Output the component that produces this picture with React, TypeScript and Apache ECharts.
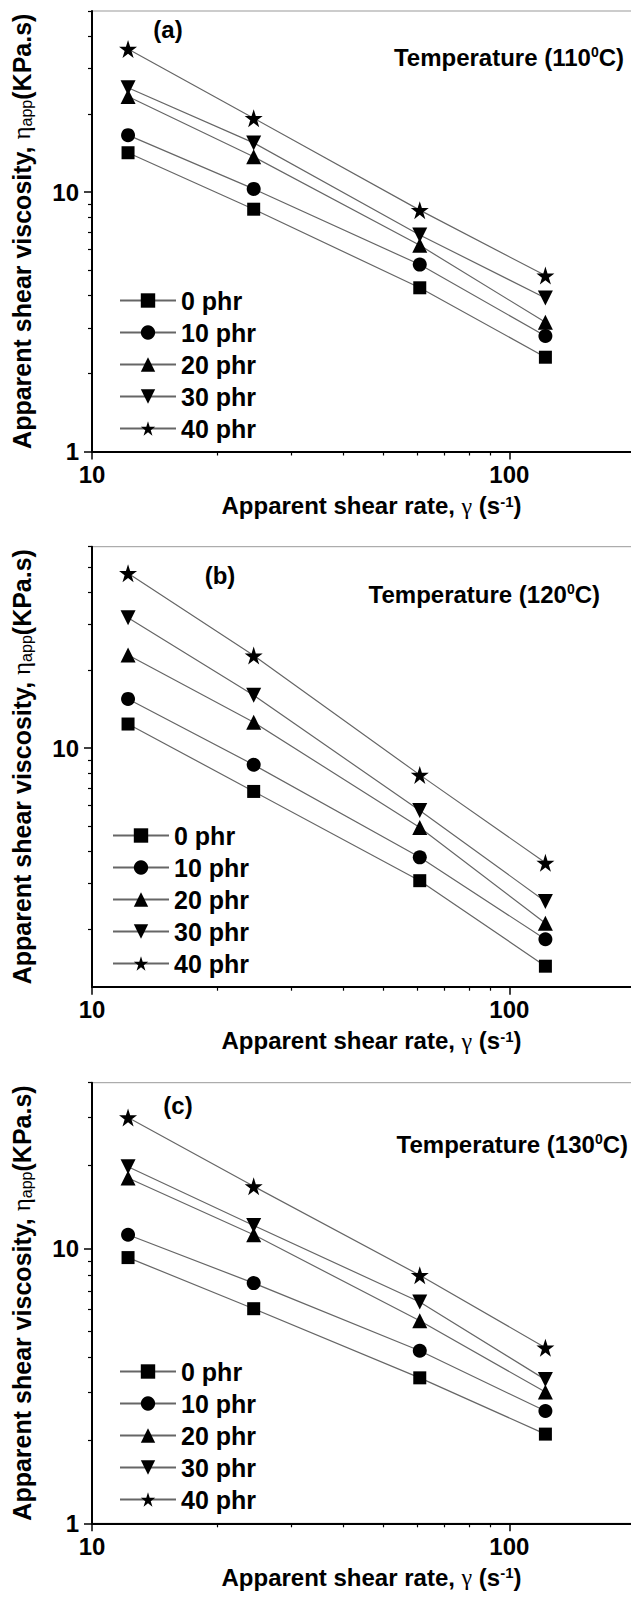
import React, { useEffect, useRef } from "react";
import * as echarts from "echarts";

// ---- data ----
const shearRate = [12.2, 24.4, 61, 122];
const seriesNames = ["0 phr", "10 phr", "20 phr", "30 phr", "40 phr"];

const visc110 = {
  p0: [14.2, 8.6, 4.28, 2.31],
  p10: [16.6, 10.3, 5.26, 2.79],
  p20: [23.4, 13.7, 6.24, 3.15],
  p30: [25.3, 15.5, 6.84, 3.91],
  p40: [35.7, 19.3, 8.53, 4.77],
};
const visc120 = {
  p0: [12.4, 6.81, 3.08, 1.44],
  p10: [15.5, 8.63, 3.79, 1.83],
  p20: [22.9, 12.6, 4.94, 2.11],
  p30: [31.9, 16.0, 5.75, 2.56],
  p40: [47.4, 22.8, 7.89, 3.61],
};
const visc130 = {
  p0: [9.25, 6.03, 3.38, 2.11],
  p10: [11.2, 7.47, 4.24, 2.56],
  p20: [18.0, 11.2, 5.45, 3.0],
  p30: [19.8, 12.1, 6.38, 3.33],
  p40: [29.9, 16.8, 7.98, 4.35],
};

const xRange = [10, 200];
const yRanges = [
  [1, 50],
  [1.2, 60],
  [1, 40],
];
const xMajor = [10, 100];
const xMinor = [20, 30, 40, 50, 60, 70, 80, 90, 200];
const yMajor = [
  [1, 10],
  [10],
  [1, 10],
];
const yMinor = [
  [2, 3, 4, 5, 6, 7, 8, 9, 20, 30, 40, 50],
  [2, 3, 4, 5, 6, 7, 8, 9, 20, 30, 40, 50, 60],
  [2, 3, 4, 5, 6, 7, 8, 9, 20, 30, 40],
];
const panelLabels = ["(a)", "(b)", "(c)"];
const temperatures = ["110", "120", "130"];

// ---- styles ----
const FONT = "Arial, 'Liberation Sans', Helvetica, sans-serif";
const SERIF = "'Liberation Serif', 'DejaVu Serif', serif";
const STAR =
  "path://M50,0 L61.2,34.5 L97.6,34.5 L68.2,55.9 L79.4,90.5 L50,69.1 L20.6,90.5 L31.8,55.9 L2.4,34.5 L38.8,34.5 Z";
const DOWN_TRI = "path://M0,0 L20,0 L10,18 Z";
const symbols = ["rect", "circle", "triangle", DOWN_TRI, STAR];
const symbolSizes = [13, 14, 15, 15, 18];

const grids = [
  { left: 92, top: 11, width: 543, height: 440.5 },
  { left: 92, top: 546.7, width: 543, height: 440 },
  { left: 92, top: 1082.7, width: 543, height: 440.6 },
];
const legendPos = [
  { left: 114, top: 283 },
  { left: 107, top: 818 },
  { left: 114, top: 1354 },
];
const panelLabelPos = [
  { x: 168, y: 29 },
  { x: 220, y: 575 },
  { x: 178, y: 1105 },
];
const tempPos = [
  { x: 624, y: 57 },
  { x: 600, y: 594 },
  { x: 628, y: 1144 },
];

export default function App() {
  const ref = useRef<HTMLDivElement>(null);

  useEffect(() => {
    if (!ref.current) return;
    const chart = echarts.init(ref.current, null, { renderer: "svg" });
    const datasets = [visc110, visc120, visc130];
    const keys = ["p0", "p10", "p20", "p30", "p40"];

    const xAxes: any[] = [];
    const yAxes: any[] = [];
    const series: any[] = [];
    const legends: any[] = [];
    const graphics: any[] = [];

    for (let p = 0; p < 3; p++) {
      xAxes.push({
        type: "log",
        logBase: 10,
        gridIndex: p,
        position: "bottom",
        min: xRange[0],
        max: xRange[1],
        axisLine: { show: true, lineStyle: { color: "#000", width: 2 } },
        axisTick: {
          show: true,
          inside: false,
          length: 8,
          customValues: xMajor,
          lineStyle: { color: "#000", width: 1.5 },
        },
        axisLabel: {
          show: true,
          customValues: xMajor,
          margin: 11,
          color: "#000",
          fontSize: 24,
          fontWeight: "bold",
          fontFamily: FONT,
        },
        splitLine: { show: false },
        name: "Apparent shear rate, {g|γ} (s{sup|-1})",
        nameLocation: "middle",
        nameGap: 42,
        nameTextStyle: {
          color: "#000",
          fontSize: 24,
          fontWeight: "bold",
          fontFamily: FONT,
          padding: [0, 0, 0, 16],
          rich: {
            g: { fontFamily: SERIF, fontSize: 24, fontWeight: "normal", color: "#000" },
            sup: {
              fontSize: 15,
              fontWeight: "bold",
              fontFamily: FONT,
              verticalAlign: "top",
              color: "#000",
            },
          },
        },
      });
      xAxes.push({
        type: "log",
        logBase: 10,
        gridIndex: p,
        position: "bottom",
        min: xRange[0],
        max: xRange[1],
        axisLine: { show: false },
        axisTick: {
          show: true,
          inside: false,
          length: 4,
          customValues: xMinor,
          lineStyle: { color: "#000", width: 1.2 },
        },
        axisLabel: { show: false },
        splitLine: { show: false },
      });
      yAxes.push({
        type: "log",
        logBase: 10,
        gridIndex: p,
        position: "left",
        min: yRanges[p][0],
        max: yRanges[p][1],
        axisLine: { show: true, lineStyle: { color: "#000", width: 2 } },
        axisTick: {
          show: true,
          inside: false,
          length: 8,
          customValues: yMajor[p],
          lineStyle: { color: "#000", width: 1.5 },
        },
        axisLabel: {
          show: true,
          customValues: yMajor[p],
          margin: 13,
          color: "#000",
          fontSize: 24,
          fontWeight: "bold",
          fontFamily: FONT,
        },
        splitLine: { show: false },
        name: "Apparent shear viscosity, {g|η}{sub|app}(KPa.s)",
        nameLocation: "middle",
        nameRotate: 90,
        nameGap: 58,
        nameTextStyle: {
          color: "#000",
          fontSize: 25,
          fontWeight: "bold",
          fontFamily: FONT,
          rich: {
            g: { fontFamily: SERIF, fontSize: 25, fontWeight: "normal", color: "#000" },
            sub: {
              fontSize: 16,
              fontWeight: "normal",
              fontFamily: FONT,
              verticalAlign: "bottom",
              color: "#000",
            },
          },
        },
      });
      yAxes.push({
        type: "log",
        logBase: 10,
        gridIndex: p,
        position: "left",
        min: yRanges[p][0],
        max: yRanges[p][1],
        axisLine: { show: false },
        axisTick: {
          show: true,
          inside: false,
          length: 4,
          customValues: yMinor[p],
          lineStyle: { color: "#000", width: 1.2 },
        },
        axisLabel: { show: false },
        splitLine: { show: false },
      });

      const ds: any = datasets[p];
      keys.forEach((k, g) => {
        series.push({
          type: "line",
          name: seriesNames[g],
          xAxisIndex: p * 2,
          yAxisIndex: p * 2,
          data: shearRate.map((x, i) => [x, ds[k][i]]),
          symbol: symbols[g],
          symbolSize: symbolSizes[g],
          showSymbol: true,
          itemStyle: { color: "#000" },
          lineStyle: { color: "#666", width: 1.2 },
          emphasis: { disabled: true },
          z: 3,
        });
      });

      legends.push({
        show: true,
        orient: "vertical",
        left: legendPos[p].left,
        top: legendPos[p].top,
        data: seriesNames,
        itemWidth: 56,
        itemHeight: 18,
        itemGap: 7,
        selectedMode: false,
        textStyle: {
          color: "#000",
          fontSize: 25,
          fontWeight: "bold",
          fontFamily: FONT,
        },
      });

      graphics.push({
        type: "text",
        x: panelLabelPos[p].x,
        y: panelLabelPos[p].y,
        style: {
          text: panelLabels[p],
          fill: "#000",
          font: `bold 24px ${FONT}`,
          textAlign: "center",
          textVerticalAlign: "middle",
        },
      });
      graphics.push({
        type: "text",
        x: tempPos[p].x,
        y: tempPos[p].y,
        style: {
          text: `Temperature (${temperatures[p]}{sup|0}C)`,
          fill: "#000",
          font: `bold 24px ${FONT}`,
          textAlign: "right",
          textVerticalAlign: "middle",
          rich: {
            sup: {
              fontSize: 14,
              fontWeight: "bold",
              fontFamily: FONT,
              verticalAlign: "top",
              fill: "#000",
            },
          },
        },
      });
    }

    chart.setOption({
      animation: false,
      backgroundColor: "#fff",
      grid: grids.map((g) => ({
        ...g,
        show: true,
        borderColor: "#999",
        borderWidth: 1,
        backgroundColor: "transparent",
        containLabel: false,
        outerBoundsMode: "none",
      })),
      xAxis: xAxes,
      yAxis: yAxes,
      legend: legends,
      series,
      graphic: graphics,
    });

    return () => {
      chart.dispose();
    };
  }, []);

  return (
    <div
      ref={ref}
      style={{
        position: "absolute",
        left: 0,
        top: 0,
        width: 631,
        height: 1611,
        background: "#fff",
      }}
    />
  );
}
